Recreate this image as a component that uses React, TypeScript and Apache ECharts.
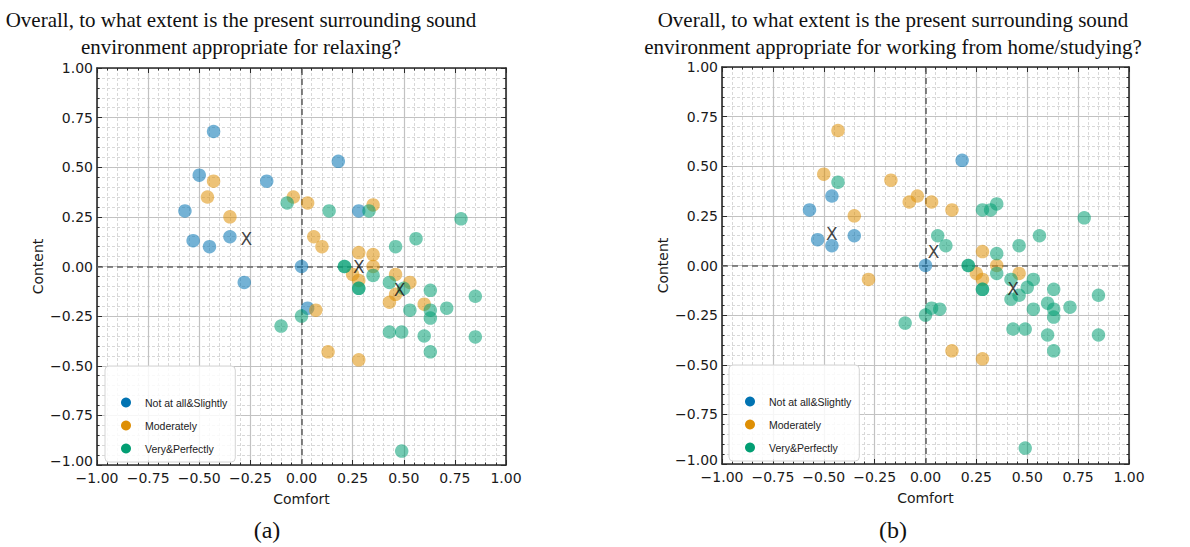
import React, { useEffect, useRef } from "react";
import * as echarts from "echarts";

// ---------- data ----------
const categories = ["Not at all&Slightly", "Moderately", "Very&Perfectly"];
const fullColors = ["#0173B2", "#DE8F05", "#029E73"];

const titleA = ["Overall, to what extent is the present surrounding sound", "environment appropriate for relaxing?"];
const titleB = ["Overall, to what extent is the present surrounding sound", "environment appropriate for working from home/studying?"];
const panelLabels = ["(a)", "(b)"];
const xAxisName = "Comfort";
const yAxisName = "Content";

// Panel (a): relaxing  [comfort, content]
const aBlue = [
  [-0.43, 0.68], [-0.5, 0.46], [-0.57, 0.28], [-0.53, 0.13], [-0.45, 0.1], [-0.35, 0.15],
  [-0.17, 0.43], [-0.28, -0.08], [0, 0], [0.18, 0.53], [0.28, 0.28], [0.03, -0.21],
];
const aOrange = [
  [-0.43, 0.43], [-0.46, 0.35], [-0.35, 0.25], [-0.04, 0.35], [0.03, 0.32], [0.35, 0.31],
  [0.06, 0.15], [0.1, 0.1], [0.28, 0.07], [0.35, 0.06], [0.35, 0.0], [0.25, -0.04],
  [0.28, -0.07], [0.46, -0.04], [0.53, -0.08], [0.46, -0.14], [0.43, -0.18], [0.6, -0.19],
  [0.07, -0.22], [0.13, -0.43], [0.28, -0.47],
];
const aGreen = [
  [-0.07, 0.32], [0.135, 0.28], [0.33, 0.28], [0.78, 0.24], [0.56, 0.14], [0.46, 0.1],
  [0.21, 0], [0.21, 0], [0.28, -0.11], [0.28, -0.11], [0.35, -0.045], [0.43, -0.08],
  [0.5, -0.11], [0.63, -0.12], [0.85, -0.15], [0.53, -0.22], [0.63, -0.22], [0.71, -0.21],
  [0.63, -0.26], [0.43, -0.33], [0.49, -0.33], [0.6, -0.35], [0.85, -0.355], [0.63, -0.43],
  [0, -0.25], [-0.1, -0.3], [0.49, -0.93],
];
const aCentroids = [[-0.27, 0.14], [0.28, 0.0], [0.48, -0.12]];

// Panel (b): working from home / studying
const bBlue = [
  [0.18, 0.53], [-0.46, 0.35], [-0.57, 0.28], [-0.53, 0.13], [-0.46, 0.1], [-0.35, 0.15], [0, 0],
];
const bOrange = [
  [-0.43, 0.68], [-0.5, 0.46], [-0.17, 0.43], [-0.35, 0.25], [-0.04, 0.35], [-0.08, 0.32],
  [0.03, 0.32], [0.13, 0.28], [-0.28, -0.07], [0.28, 0.07], [0.35, 0], [0.25, -0.04],
  [0.28, -0.07], [0.46, -0.04], [0.13, -0.43], [0.28, -0.47],
];
const bGreen = [
  [-0.43, 0.42], [0.35, 0.31], [0.28, 0.28], [0.32, 0.28], [0.78, 0.24], [0.06, 0.15],
  [0.1, 0.1], [0.35, 0.06], [0.46, 0.1], [0.56, 0.15], [0.21, 0], [0.21, 0],
  [0.28, -0.12], [0.28, -0.12], [0.35, -0.04], [0.42, -0.07], [0.42, -0.17], [0.46, -0.15],
  [0.5, -0.11], [0.53, -0.07], [0.63, -0.12], [0.85, -0.15], [0.53, -0.22], [0.6, -0.19],
  [0.63, -0.22], [0.71, -0.21], [0.63, -0.26], [0.43, -0.32], [0.49, -0.32], [0.6, -0.35],
  [0.85, -0.35], [0.63, -0.43], [0, -0.25], [0.03, -0.215], [0.07, -0.22], [-0.1, -0.29],
  [0.49, -0.92],
];
const bCentroids = [[-0.46, 0.16], [0.04, 0.07], [0.43, -0.12]];

const panels = [
  { groups: [aBlue, aOrange, aGreen], centroids: aCentroids },
  { groups: [bBlue, bOrange, bGreen], centroids: bCentroids },
];

// ---------- layout ----------
const grids = [
  { left: 97, top: 68, width: 409, height: 397 },
  { left: 722, top: 67, width: 407, height: 397 },
];
const legendPos = [
  { left: 105, top: 366 },
  { left: 729, top: 365 },
];

const fmt = (v: number) => (v < 0 ? "\u2212" : "") + Math.abs(v).toFixed(2);
// bottom-most y label is nudged up slightly so it does not sit on the x label
const fmtY = (v: number) => (v <= -1 ? "{lo|" + fmt(v) + "}" : fmt(v));

const frameColor = "#2a2a2a";
const labelStyle = { fontFamily: "DejaVu Sans", fontSize: 14, color: "#1a1a1a" };

function makeAxis(kind: "x" | "y", gridIndex: number, main: boolean) {
  const base: any = {
    type: "value",
    gridIndex,
    min: -1,
    max: 1,
    interval: 0.25,
    position: kind === "x" ? (main ? "bottom" : "top") : main ? "left" : "right",
    axisLine: { show: true, onZero: false, lineStyle: { color: frameColor, width: 1.6 } },
    axisTick: { show: true, inside: true, length: 5, lineStyle: { color: frameColor, width: 1 } },
    minorTick: { show: true, splitNumber: 5, length: 2.5, lineStyle: { color: frameColor, width: 1 } },
    axisLabel: main
      ? kind === "x"
        ? { show: true, formatter: fmt, margin: 6, ...labelStyle }
        : {
            show: true,
            formatter: fmtY,
            margin: 4,
            ...labelStyle,
            rich: { lo: { ...labelStyle, padding: [0, 0, 8, 0] } },
          }
      : { show: false },
    splitLine: main ? { show: true, lineStyle: { color: "#c2c2c2", width: 1.2 } } : { show: false },
    minorSplitLine: main ? { show: true, lineStyle: { color: "#d8d8d8", width: 1, type: [3, 2] } } : { show: false },
  };
  if (main) {
    base.name = kind === "x" ? xAxisName : yAxisName;
    base.nameLocation = "middle";
    base.nameGap = kind === "x" ? 27 : 52;
    base.nameTextStyle = { fontFamily: "DejaVu Sans", fontSize: 14, color: "#1a1a1a" };
  }
  return base;
}

export default function App() {
  const ref = useRef<HTMLDivElement>(null);

  useEffect(() => {
    document.body.style.margin = "0";
    const chart = echarts.init(ref.current!, undefined, { renderer: "svg" });

    const xAxis: any[] = [];
    const yAxis: any[] = [];
    grids.forEach((_, i) => {
      xAxis.push(makeAxis("x", i, true));
      xAxis.push(makeAxis("x", i, false));
      yAxis.push(makeAxis("y", i, true));
      yAxis.push(makeAxis("y", i, false));
    });

    const series: any[] = [];
    panels.forEach((p, i) => {
      p.groups.forEach((pts, k) => {
        const s: any = {
          type: "scatter",
          name: categories[k],
          xAxisIndex: i * 2,
          yAxisIndex: i * 2,
          data: pts,
          symbol: "circle",
          symbolSize: 13.5,
          itemStyle: { color: fullColors[k], opacity: 0.55 },
          emphasis: { disabled: true },
          z: 3,
        };
        if (k === 0) {
          s.markLine = {
            silent: true,
            symbol: ["none", "none"],
            label: { show: false },
            lineStyle: { color: "#666", width: 1.6, type: [6, 4] },
            data: [{ xAxis: 0 }, { yAxis: 0 }],
            z: 2,
          };
        }
        series.push(s);
      });
      series.push({
        type: "scatter",
        name: "centroid",
        xAxisIndex: i * 2,
        yAxisIndex: i * 2,
        data: p.centroids,
        symbol: "circle",
        symbolSize: 1,
        itemStyle: { color: "rgba(0,0,0,0)" },
        label: {
          show: true,
          position: "inside",
          formatter: "X",
          fontFamily: "DejaVu Sans",
          fontSize: 17,
          color: "#111",
        },
        emphasis: { disabled: true },
        z: 5,
      });
    });

    const legends = legendPos.map((pos) => ({
      ...pos,
      orient: "vertical",
      selectedMode: false,
      icon: "circle",
      itemWidth: 10,
      itemHeight: 10,
      itemGap: 12,
      padding: [31, 8, 8, 16],
      backgroundColor: "rgba(255,255,255,0.85)",
      borderColor: "#d4d4d4",
      borderWidth: 1,
      borderRadius: 4,
      textStyle: {
        fontFamily: "Liberation Sans",
        fontSize: 10.5,
        color: "#222",
        lineHeight: 10,
        padding: [0, 0, 0, 9],
      },
      data: categories.map((c, k) => ({ name: c, itemStyle: { color: fullColors[k], opacity: 1 } })),
      z: 10,
    }));

    const titleText = (lines: string[], cx: number) =>
      lines.map((t, j) => ({
        type: "text",
        x: cx,
        y: 20 + j * 27,
        style: {
          text: t,
          textAlign: "center",
          textVerticalAlign: "middle",
          fontFamily: "Liberation Serif",
          fontSize: 21,
          fill: "#111",
        },
      }));

    const graphic: any[] = [
      ...titleText(titleA, 241),
      ...titleText(titleB, 893),
      ...panelLabels.map((t, i) => ({
        type: "text",
        x: i === 0 ? 267 : 893,
        y: 530,
        style: {
          text: t,
          textAlign: "center",
          textVerticalAlign: "middle",
          fontFamily: "Liberation Serif",
          fontSize: 24,
          fill: "#111",
        },
      })),
    ];

    chart.setOption({
      animation: false,
      backgroundColor: "#ffffff",
      grid: grids.map((g) => ({ ...g, containLabel: false })),
      xAxis,
      yAxis,
      legend: legends,
      series,
      graphic,
    });

    return () => chart.dispose();
  }, []);

  return (
    <div
      ref={ref}
      style={{ position: "absolute", left: 0, top: 0, width: 1190, height: 547 }}
    />
  );
}
